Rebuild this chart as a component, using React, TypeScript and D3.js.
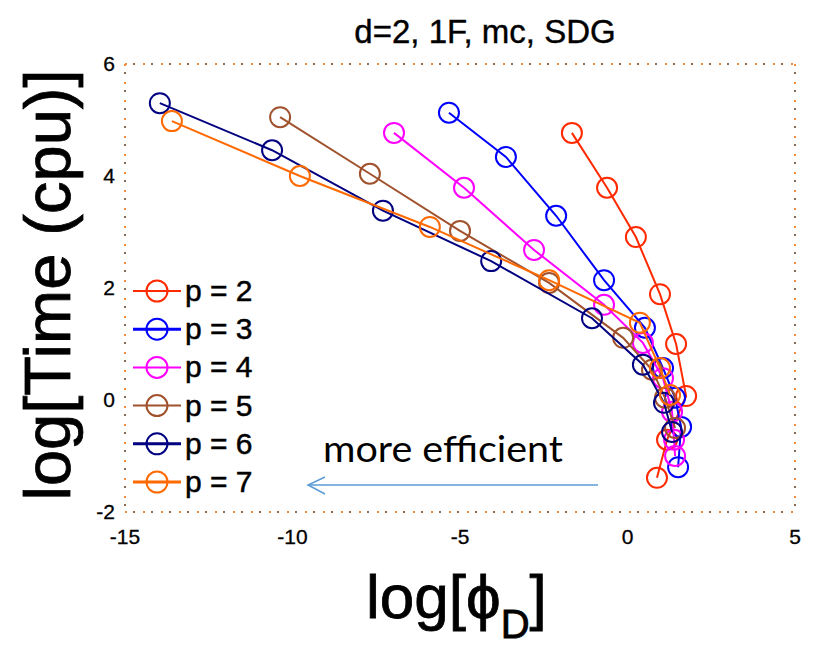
import React from "react";
import * as d3 from "d3";

const seriesNames = ["p = 2", "p = 3", "p = 4", "p = 5", "p = 6", "p = 7"];
const seriesColors = ["#ff2a00", "#0000ff", "#ff00ff", "#a0522d", "#000080", "#ff6a00"];

const p2x = [-1.66, -0.61, 0.25, 0.97, 1.45, 1.75, 1.18, 0.88];
const p2y = [4.77, 3.79, 2.91, 1.89, 1.0, 0.07, -0.71, -1.39];
const p3x = [-5.33, -3.63, -2.13, -0.7, 0.52, 1.06, 1.42, 1.6, 1.51];
const p3y = [5.13, 4.34, 3.29, 2.14, 1.29, 0.57, 0.04, -0.48, -1.2];
const p4x = [-6.97, -4.88, -2.79, -0.7, 0.46, 1.06, 1.33, 1.39, 1.42];
const p4y = [4.77, 3.79, 2.68, 1.7, 1.02, 0.39, -0.21, -0.71, -1.0];
const p5x = [-10.37, -7.69, -5.0, -2.34, -0.13, 0.73, 1.12, 1.42];
const p5y = [5.05, 4.04, 3.02, 2.09, 1.11, 0.54, 0.04, -0.5];
const p6x = [-13.96, -10.61, -7.3, -4.07, -1.06, 0.46, 1.09, 1.33];
const p6y = [5.3, 4.46, 3.38, 2.48, 1.46, 0.63, -0.05, -0.57];
const p7x = [-13.6, -9.78, -5.9, -2.34, 0.37, 0.97, 1.27];
const p7y = [4.98, 4.0, 3.09, 2.14, 1.38, 0.57, 0.09];

const xTicks = [-15, -10, -5, 0, 5];
const yTicks = [-2, 0, 2, 4, 6];

const title = "d=2, 1F, mc, SDG";
const annotation = "more efficient";

export default function App() {
  const W = 813, H = 649;
  const x = d3.scaleLinear().domain([-15, 5]).range([125, 795]);
  const y = d3.scaleLinear().domain([-2, 6]).range([512, 64]);
  const xs = [p2x, p3x, p4x, p5x, p6x, p7x];
  const ys = [p2y, p3y, p4y, p5y, p6y, p7y];
  const line = d3.line<[number, number]>().x(d => x(d[0])).y(d => y(d[1]));
  const [x0, x1] = x.range();
  const [y0, y1] = y.range();
  const dotA = { stroke: "#f08a3c", strokeWidth: 2, strokeDasharray: "2 16" };
  const dotB = { stroke: "#8a6a50", strokeWidth: 2, strokeDasharray: "2 16", strokeDashoffset: -8 };
  const font = "'Liberation Sans', Arial, sans-serif";
  const legendY = (i: number) => 291 + i * 38.2;

  return (
    <svg width={W} height={H} style={{ position: "absolute", left: 0, top: 0, background: "#fff" }}>
      <rect x={0} y={0} width={W} height={H} fill="#fff" />
      {/* dotted frame */}
      {[dotA, dotB].map((s, k) => (
        <g key={k} fill="none" {...s}>
          <line x1={x0} x2={x1} y1={y1} y2={y1} />
          <line x1={x0} x2={x1} y1={y0} y2={y0} />
          <line x1={x1} x2={x1} y1={y1} y2={y0} />
          <line x1={x0} x2={x0} y1={y1} y2={y0} />
        </g>
      ))}
      {/* title */}
      <text x={485} y={43} textAnchor="middle" fontFamily={font} fontSize={33} fill="#000" stroke="#000" strokeWidth={0.4}>{title}</text>
      {/* tick labels */}
      {xTicks.map(t => (
        <text key={"x" + t} x={x(t)} y={544} textAnchor="middle" fontFamily={font} fontSize={21} fill="#000" stroke="#000" strokeWidth={0.3}>{t < 0 ? "-" + Math.abs(t) : t}</text>
      ))}
      {yTicks.map(t => (
        <text key={"y" + t} x={115} y={y(t) + 7} textAnchor="end" fontFamily={font} fontSize={21} fill="#000" stroke="#000" strokeWidth={0.3}>{t < 0 ? "-" + Math.abs(t) : t}</text>
      ))}
      {/* axis labels */}
      <text transform="translate(70,285) rotate(-90)" textAnchor="middle" fontFamily={font} fontSize={65} fill="#000" stroke="#000" strokeWidth={0.8}>log[Time (cpu)]</text>
      <text x={366} y={618} fontFamily={font} fontSize={62} fill="#000" stroke="#000" strokeWidth={0.8}>
        log[ϕ<tspan fontSize={40} dy={20}>D</tspan><tspan dy={-20}>]</tspan>
      </text>
      {/* series */}
      {xs.map((sx, i) => {
        const pts = sx.map((v, j) => [v, ys[i][j]] as [number, number]);
        return (
          <g key={i}>
            <path d={line(pts) || ""} fill="none" stroke={seriesColors[i]} strokeWidth={2} />
            {pts.map((p, j) => (
              <circle key={j} cx={x(p[0])} cy={y(p[1])} r={10} fill="none" stroke={seriesColors[i]} strokeWidth={2} />
            ))}
          </g>
        );
      })}
      {/* legend */}
      {seriesNames.map((n, i) => (
        <g key={n}>
          <line x1={133} x2={181} y1={legendY(i)} y2={legendY(i)} stroke={seriesColors[i]} strokeWidth={i === 1 || i === 4 || i === 5 ? 3 : 2} />
          <circle cx={157} cy={legendY(i)} r={10.5} fill="none" stroke={seriesColors[i]} strokeWidth={2} />
          <text x={185} y={legendY(i) + 10} fontFamily={font} fontSize={30} fill="#000" stroke="#000" strokeWidth={0.5}>{n}</text>
        </g>
      ))}
      {/* annotation */}
      <text x={323} y={462} fontFamily="Lato, 'Open Sans', sans-serif" fontSize={36} textLength={240} lengthAdjust="spacingAndGlyphs" fill="#000">{annotation}</text>
      <g stroke="#5b9bd5" strokeWidth={1.5} fill="none">
        <line x1={598} x2={308} y1={485} y2={485} />
        <polyline points="325,477 308,485 325,494" />
      </g>
    </svg>
  );
}
